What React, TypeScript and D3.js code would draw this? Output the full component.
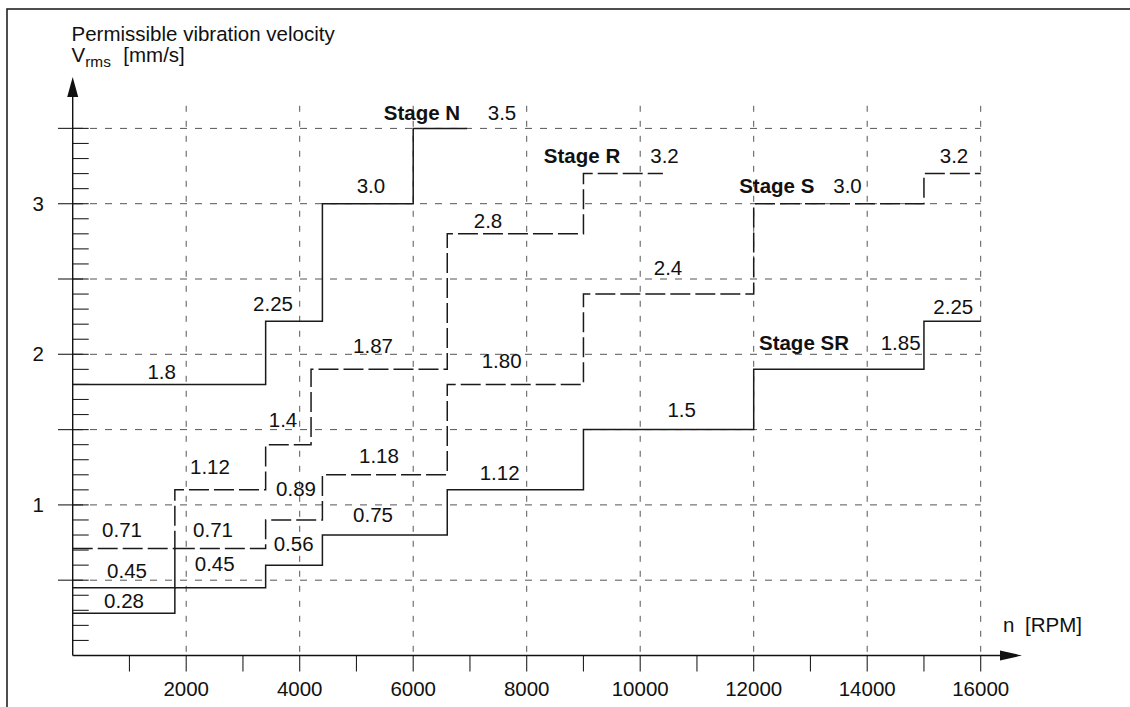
import React from "react";
import * as d3 from "d3";

// ---- data ----
const xTickLabels = [2000, 4000, 6000, 8000, 10000, 12000, 14000, 16000];
const yTickLabels = [1, 2, 3];

const nBreaks = [0, 3400, 4400, 6000, 6950];
const nLevels = [1.8, 2.22, 3.0, 3.5];

const rBreaks = [0, 1800, 3400, 4200, 6600, 9000, 10400];
const rLevels = [0.71, 1.1, 1.4, 1.9, 2.8, 3.2];

const sBreaks = [0, 1800, 3400, 4400, 6600, 9000, 12000, 15000, 16000];
const sLevels = [0.45, 0.71, 0.9, 1.2, 1.8, 2.4, 3.0, 3.2];

const srBreaks = [0, 1800, 3400, 4400, 6600, 9000, 12000, 15000, 16000];
const srLevels = [0.28, 0.45, 0.6, 0.8, 1.1, 1.5, 1.9, 2.22];

// annotations: [text, rpm (centre), value (baseline), bold]
const nLabels: [string, number, number, boolean][] = [
  ["1.8", 1568, 1.834, false],
  ["2.25", 3530, 2.288, false],
  ["3.0", 5256, 3.069, false],
  ["Stage N", 6155, 3.556, true],
  ["3.5", 7565, 3.556, false],
];
const rLabels: [string, number, number, boolean][] = [
  ["0.71", 869, 0.789, false],
  ["1.12", 2419, 1.205, false],
  ["1.4", 3706, 1.514, false],
  ["1.87", 5292, 2.011, false],
  ["2.8", 7318, 2.837, false],
  ["Stage R", 8975, 3.272, true],
  ["3.2", 10428, 3.272, false],
];
const sLabels: [string, number, number, boolean][] = [
  ["0.45", 957, 0.513, false],
  ["0.71", 2472, 0.789, false],
  ["0.89", 3935, 1.059, false],
  ["1.18", 5397, 1.28, false],
  ["1.80", 7559, 1.911, false],
  ["2.4", 10490, 2.527, false],
  ["Stage S", 12407, 3.073, true],
  ["3.0", 13653, 3.073, false],
  ["3.2", 15530, 3.272, false],
];
const srLabels: [string, number, number, boolean][] = [
  ["0.28", 904, 0.313, false],
  ["0.45", 2502, 0.561, false],
  ["0.56", 3894, 0.694, false],
  ["0.75", 5292, 0.888, false],
  ["1.12", 7524, 1.165, false],
  ["1.5", 10731, 1.586, false],
  ["Stage SR", 12886, 2.029, true],
  ["1.85", 14590, 2.029, false],
  ["2.25", 15517, 2.266, false],
];

const FONT = "'Liberation Sans', Arial, Helvetica, sans-serif";
const FS = 20.5;

function stepPoints(breaks: number[], levels: number[]): [number, number][] {
  const pts: [number, number][] = levels.map((v, i) => [breaks[i], v]);
  pts.push([breaks[breaks.length - 1], levels[levels.length - 1]]);
  return pts;
}

export default function App() {
  const x = d3.scaleLinear().domain([0, 16000]).range([72.7, 980.7]);
  const y = d3.scaleLinear().domain([0, 3.5]).range([655.5, 128.4]);
  const line = d3
    .line<[number, number]>()
    .x((d) => x(d[0]))
    .y((d) => y(d[1]))
    .curve(d3.curveStepAfter);

  const x0 = x(0);
  const y0 = y(0);
  const minorY = d3.range(1, 36).map((i) => i / 10);
  const majorY = d3.range(1, 8).map((i) => i / 2);
  const minorX = d3.range(1, 17).map((i) => i * 1000);
  const gridTop = y(3.65);

  const lineColor = "#1a1a1a";
  const gridColor = "#555";

  const sPts = stepPoints(sBreaks, sLevels);

  const allLabels = [...nLabels, ...rLabels, ...sLabels, ...srLabels];

  return (
    <svg
      width={1130}
      height={707}
      style={{ position: "absolute", left: 0, top: 0, background: "#fff" }}
      fontFamily={FONT}
    >
      <rect x={0} y={0} width={1130} height={707} fill="#fff" />
      {/* frame */}
      <rect x={7} y={9} width={1200} height={800} fill="none" stroke="#222" strokeWidth={1.6} />

      {/* horizontal grid */}
      {majorY.map((v) => (
        <g key={"hg" + v}>
          <line x1={58} x2={83} y1={y(v)} y2={y(v)} stroke="#333" strokeWidth={1.2} />
          <line
            x1={90}
            x2={x(16000)}
            y1={y(v)}
            y2={y(v)}
            stroke={gridColor}
            strokeWidth={1}
            strokeDasharray="7,8"
          />
        </g>
      ))}
      {/* vertical grid */}
      {xTickLabels.map((v) => (
        <line
          key={"vg" + v}
          x1={x(v)}
          x2={x(v)}
          y1={gridTop}
          y2={y0}
          stroke={gridColor}
          strokeWidth={1}
          strokeDasharray="6,9"
        />
      ))}

      {/* y minor ticks */}
      {minorY.map((v) => (
        <line key={"yt" + v} x1={x0} x2={x0 + 16} y1={y(v)} y2={y(v)} stroke="#222" strokeWidth={1.1} />
      ))}
      {/* x ticks */}
      {minorX.map((v) => (
        <line key={"xt" + v} x1={x(v)} x2={x(v)} y1={y0} y2={y0 + 16} stroke="#222" strokeWidth={1.1} />
      ))}

      {/* axes */}
      <line x1={x0} x2={x0} y1={y0} y2={92} stroke="#111" strokeWidth={1.4} />
      <polygon points={`${x0},77 ${x0 - 5.5},97 ${x0 + 5.5},97`} fill="#111" />
      <line x1={x0} x2={1004} y1={y0} y2={y0} stroke="#111" strokeWidth={1.4} />
      <polygon points={`1022,${y0} 1000,${y0 - 5} 1000,${y0 + 5}`} fill="#111" />

      {/* tick labels */}
      {xTickLabels.map((v) => (
        <text key={"xl" + v} x={x(v)} y={696} textAnchor="middle" fontSize={FS} fill="#111">
          {v}
        </text>
      ))}
      {yTickLabels.map((v) => (
        <text key={"yl" + v} x={44} y={y(v) + 7} textAnchor="end" fontSize={FS} fill="#111">
          {v}
        </text>
      ))}

      {/* axis titles */}
      <text x={71.5} y={41} fontSize={FS} fill="#111">
        Permissible vibration velocity
      </text>
      <text x={71.5} y={62} fontSize={FS} fill="#111">
        V
        <tspan fontSize={15.4} dy={5}>
          rms
        </tspan>
        <tspan x={123.3} dy={-5}>
          [mm/s]
        </tspan>
      </text>
      <text x={1003} y={631.5} fontSize={FS} fill="#111">
        n
        <tspan x={1025}>[RPM]</tspan>
      </text>

      {/* series */}
      <path d={line(stepPoints(nBreaks, nLevels)) || ""} fill="none" stroke={lineColor} strokeWidth={1.5} />
      <path d={line(stepPoints(srBreaks, srLevels)) || ""} fill="none" stroke={lineColor} strokeWidth={1.5} />
      <path
        d={line(stepPoints(rBreaks, rLevels)) || ""}
        fill="none"
        stroke={lineColor}
        strokeWidth={1.5}
        strokeDasharray="20,5"
      />
      <path d={line(sPts.slice(0, 2) as [number, number][]) || ""} fill="none" stroke={lineColor} strokeWidth={1.5} />
      <path
        d={line(sPts.slice(1)) || ""}
        fill="none"
        stroke={lineColor}
        strokeWidth={1.5}
        strokeDasharray="20,5"
      />

      {/* annotations */}
      {allLabels.map(([t, r, v, b], i) => (
        <text
          key={"lab" + i}
          x={x(r)}
          y={y(v)}
          textAnchor="middle"
          fontSize={FS}
          fontWeight={b ? "bold" : "normal"}
          fill="#111"
        >
          {t}
        </text>
      ))}
    </svg>
  );
}
